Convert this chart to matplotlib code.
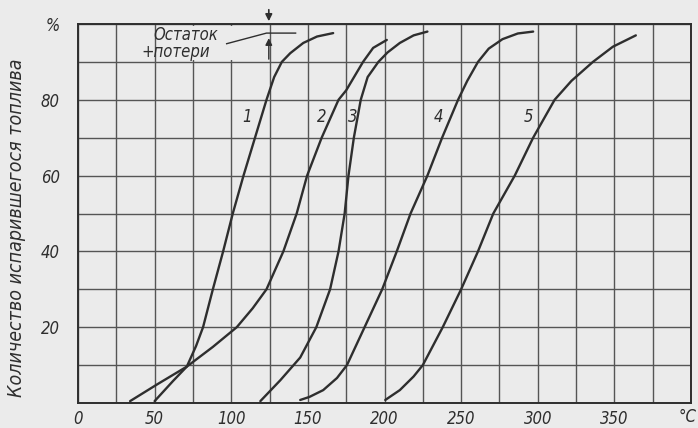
"""Кривые разгонки топлив: количество испарившегося топлива от температуры."""
import numpy as np
import matplotlib.pyplot as plt
from matplotlib.patches import Rectangle

# данные: температура, °C и доля испарившегося топлива, %
temp_1 = [50, 62, 71, 77, 81.6, 88, 94.7, 101, 108, 115.5, 123, 128, 133, 138.5, 147, 156, 166.5]
pct_1 = [0.5, 5.8, 9.6, 15, 20, 30, 40, 50, 60, 70, 80, 86, 90, 92.3, 95, 96.7, 97.6]

temp_2 = [34, 52, 71, 88, 103.6, 114, 123, 134, 142.7, 149.5, 159, 170, 175, 186, 192.6, 201.5]
pct_2 = [0.5, 5, 9.6, 14.8, 20, 25, 30, 40, 50, 60, 70, 80, 82.5, 90, 93.7, 95.8]

temp_3 = [119, 132, 145, 155.5, 164.5, 170, 174, 176.5, 180, 184.5, 189, 196, 202, 210, 219, 228]
pct_3 = [0.5, 6, 12, 20, 30, 40, 50, 60, 70, 80, 86, 90, 92.5, 95, 97, 98]

temp_4 = [145, 151, 160, 169, 175.5, 187, 198.5, 208, 217, 228, 237.6, 248, 254, 261, 268, 277, 287, 297]
pct_4 = [0.8, 1.6, 3.4, 6.6, 10, 20, 30, 40, 50, 60, 70, 80, 85, 90, 93.5, 96, 97.5, 98]

temp_5 = [200.5, 210, 219, 225, 238, 250, 261, 271, 285, 297, 311, 322, 336, 349, 364]
pct_5 = [0.8, 3.4, 7, 10, 20, 30, 40, 50, 60, 70, 80, 85, 90, 94, 97]

curve_names = ['1', '2', '3', '4', '5']
residue_pct = 97.6   # остаток + потери (уровень конца кривой 1)

x_ticks = list(range(0, 401, 25))
x_labels = ['0', '', '50', '', '100', '', '150', '', '200', '', '250', '', '300', '', '350', '', '']
y_ticks = list(range(0, 101, 10))
y_labels = ['', '', '20', '', '40', '', '60', '', '80', '', '%']

BG = '#ebebeb'
INK = '#2e2e2e'
GRID = '#555555'

plt.rcParams['font.family'] = 'DejaVu Sans'
plt.rcParams['font.style'] = 'italic'
plt.rcParams['font.stretch'] = 'condensed'

fig = plt.figure(figsize=(6.98, 4.28), dpi=100, facecolor=BG)
ax = fig.add_axes([78 / 698, 25 / 428, 613 / 698, 379 / 428])
ax.set_facecolor(BG)

temps = [temp_1, temp_2, temp_3, temp_4, temp_5]
pcts = [pct_1, pct_2, pct_3, pct_4, pct_5]
for t, p in zip(temps, pcts):
    ax.plot(t, p, color=INK, lw=1.7, solid_capstyle='round', solid_joinstyle='round', zorder=3)

# номера кривых
label_x = [110, 159, 179, 235, 294]
for name, lx in zip(curve_names, label_x):
    ax.text(lx, 75.5, name, fontsize=12, color=INK, ha='center', va='center', zorder=4)

ax.set_xlim(0, 400)
ax.set_ylim(0, 100)
ax.set_xticks(x_ticks)
ax.set_xticklabels(x_labels, fontsize=12, color=INK)
ax.set_yticks(y_ticks)
ax.set_yticklabels(y_labels, fontsize=12, color=INK)
ax.tick_params(axis='x', length=0, pad=5)
ax.tick_params(axis='y', length=0, pad=13)
ax.grid(True, color=GRID, lw=1.0, zorder=1)
ax.set_axisbelow(True)
for sp in ax.spines.values():
    sp.set_color(INK)
    sp.set_linewidth(1.4)

# единица измерения вместо подписи 400
fig.text(697 / 698, 1 - 417 / 428, '°C', fontsize=12, color=INK, ha='right', va='center')

# надпись "Остаток + потери" поверх сетки
ax.add_patch(Rectangle((52, 90.5), 70, 9.0, facecolor=BG, edgecolor='none', zorder=2))
ax.text(49, 97.2, 'Остаток', fontsize=12, color=INK, va='center', ha='left', zorder=4)
ax.text(41.5, 92.6, '+потери', fontsize=12, color=INK, va='center', ha='left', zorder=4)
ax.plot([97, 123, 142], [94.8, residue_pct, residue_pct], color=INK, lw=1.0, zorder=3)
ax.annotate('', xy=(124.5, 100), xytext=(124.5, 104.5), annotation_clip=False,
            arrowprops=dict(arrowstyle='-|>', color=INK, lw=1.2, mutation_scale=10))
ax.annotate('', xy=(124.5, residue_pct - 0.6), xytext=(124.5, 90),
            arrowprops=dict(arrowstyle='-|>', color=INK, lw=1.0, mutation_scale=10))

fig.text(17 / 698, 1 - 228 / 428, 'Количество испарившегося топлива', rotation=90,
         fontsize=14, color=INK, ha='center', va='center')

fig.savefig('out.png', dpi=100, facecolor=BG)
